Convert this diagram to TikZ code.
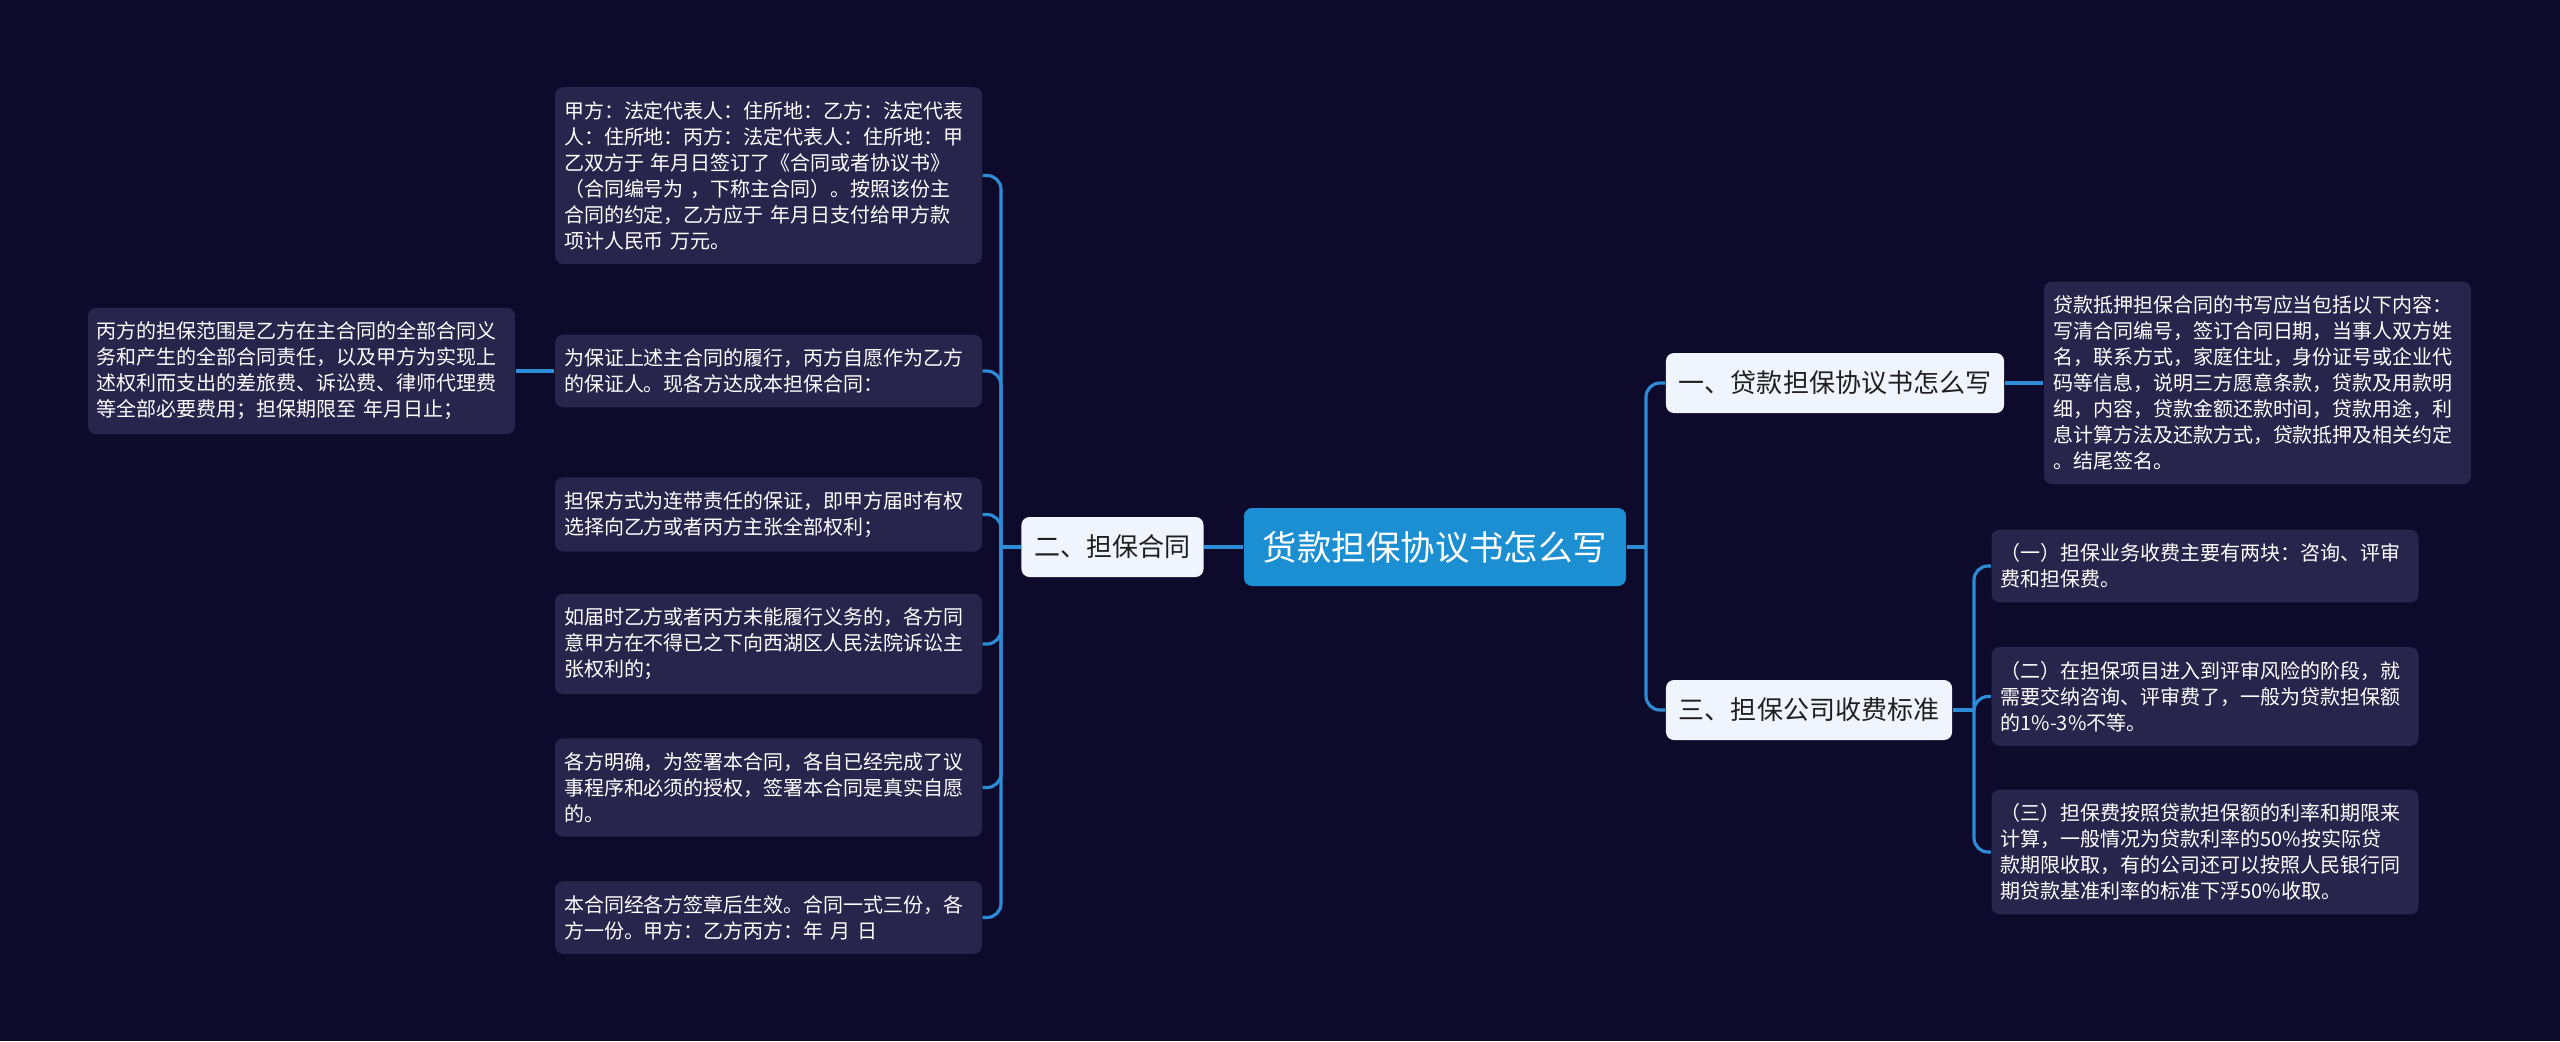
\documentclass[tikz,border=0pt]{standalone}
\usepackage{fontspec}
\setmainfont{Noto Sans CJK SC}
\usepackage{xcolor}
\usepackage{tikz}

\definecolor{bgnavy}{HTML}{0D0A2C}
\definecolor{leafbg}{HTML}{27254B}
\definecolor{linkblue}{HTML}{2D8CD6}
\definecolor{mainblue}{HTML}{1B8FD2}
\definecolor{topicbg}{HTML}{F0F4FC}
\definecolor{topictxt}{HTML}{1F1F1F}

\begin{document}
\begin{tikzpicture}[
  mainbox/.style={fill=mainblue, text=white, rounded corners=0.08cm, minimum width=3.82cm, minimum height=0.78cm, inner sep=0pt, font=\fontsize{9.8pt}{11pt}\selectfont},
  topic/.style={fill=topicbg, text=topictxt, rounded corners=0.08cm, minimum height=0.6cm, inner xsep=0.13cm, inner ysep=0pt, font=\fontsize{7.4pt}{9pt}\selectfont},
  leaf/.style={fill=leafbg, text=white, rounded corners=0.08cm, align=left, text width=4.09cm, inner xsep=0.09cm, inner ysep=0.14cm, font=\fontsize{5.69pt}{7.4pt}\selectfont},
  link/.style={draw=linkblue, line width=0.9pt, rounded corners=0.14cm}
]
\fill[bgnavy] (0,0) rectangle (25.6,-10.41);
\useasboundingbox (0,0) rectangle (25.6,-10.41);

\node[mainbox] (root) at (14.35,-5.47) {货款担保协议书怎么写};

\node[topic] (t1) at (18.35,-3.83) {一、贷款担保协议书怎么写};
\node[topic] (t2) at (11.125,-5.47) {二、担保合同};
\node[topic] (t3) at (18.09,-7.10) {三、担保公司收费标准};

\node[leaf] (r1) at (22.575,-3.83) {贷款抵押担保合同的书写应当包括以下内容：\\写清合同编号，签订合同日期，当事人双方姓\\名，联系方式，家庭住址，身份证号或企业代\\码等信息，说明三方愿意条款，贷款及用款明\\细，内容，贷款金额还款时间，贷款用途，利\\息计算方法及还款方式，贷款抵押及相关约定\\。结尾签名。};

\node[leaf] (s1) at (22.05,-5.66) {（一）担保业务收费主要有两块：咨询、评审\\费和担保费。};
\node[leaf] (s2) at (22.05,-6.965) {（二）在担保项目进入到评审风险的阶段，就\\需要交纳咨询、评审费了，一般为贷款担保额\\的1\%-3\%不等。};
\node[leaf] (s3) at (22.05,-8.52) {（三）担保费按照贷款担保额的利率和期限来\\计算，一般情况为贷款利率的50\%按实际贷\\款期限收取，有的公司还可以按照人民银行同\\期贷款基准利率的标准下浮50\%收取。};

\node[leaf] (l1) at (7.685,-1.755) {甲方：法定代表人：住所地：乙方：法定代表\\人：住所地：丙方：法定代表人：住所地：甲\\乙双方于 年月日签订了《合同或者协议书》\\（合同编号为 ，下称主合同）。按照该份主\\合同的约定，乙方应于 年月日支付给甲方款\\项计人民币 万元。};
\node[leaf] (l2) at (7.685,-3.71) {为保证上述主合同的履行，丙方自愿作为乙方\\的保证人。现各方达成本担保合同：};
\node[leaf] (l3) at (7.685,-5.145) {担保方式为连带责任的保证，即甲方届时有权\\选择向乙方或者丙方主张全部权利；};
\node[leaf] (l4) at (7.685,-6.44) {如届时乙方或者丙方未能履行义务的，各方同\\意甲方在不得已之下向西湖区人民法院诉讼主\\张权利的；};
\node[leaf] (l5) at (7.685,-7.875) {各方明确，为签署本合同，各自已经完成了议\\事程序和必须的授权，签署本合同是真实自愿\\的。};
\node[leaf] (l6) at (7.685,-9.175) {本合同经各方签章后生效。合同一式三份，各\\方一份。甲方：乙方丙方：年 月 日};

\node[leaf] (f1) at (3.015,-3.71) {丙方的担保范围是乙方在主合同的全部合同义\\务和产生的全部合同责任，以及甲方为实现上\\述权利而支出的差旅费、诉讼费、律师代理费\\等全部必要费用；担保期限至 年月日止；};

\coordinate (busl) at (10.01,-5.47);
\coordinate (busr) at (16.46,-5.47);
\coordinate (bus3) at (19.74,-7.10);

\draw[link] (root.west) -- (t2.east);
\draw[link] (t2.west) -- (busl);
\draw[link] (busl) |- (l1.east);
\draw[link] (busl) |- (l2.east);
\draw[link] (busl) |- (l3.east);
\draw[link] (busl) |- (l4.east);
\draw[link] (busl) |- (l5.east);
\draw[link] (busl) |- (l6.east);
\draw[link] (l2.west) -- (f1.east);

\draw[link] (root.east) -- (busr);
\draw[link] (busr) |- (t1.west);
\draw[link] (busr) |- (t3.west);
\draw[link] (t1.east) -- (r1.west);

\draw[link] (t3.east) -- (bus3);
\draw[link] (bus3) |- (s1.west);
\draw[link] (bus3) |- (s2.west);
\draw[link] (bus3) |- (s3.west);
\end{tikzpicture}
\end{document}
